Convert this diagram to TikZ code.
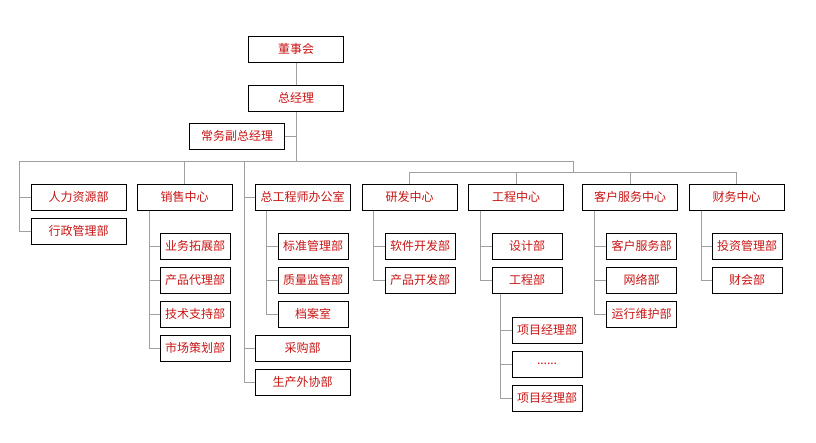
\documentclass[tikz,border=0pt]{standalone}
\usepackage{fontspec}
\setmainfont{Noto Sans CJK SC}
\usepackage{tikz}
\definecolor{deptred}{RGB}{200,20,20}
\definecolor{linkgray}{RGB}{160,160,160}

\begin{document}
\begin{tikzpicture}[x=1pt,y=-1pt,
        box/.style={draw=black,line width=1pt,text=deptred,minimum width=95pt,minimum height=26pt,inner sep=0pt,font=\fontsize{12}{14}\selectfont},
        sub/.style={box,minimum width=70pt},
        link/.style={draw=linkgray,line width=0.9pt}]
        \useasboundingbox (0,0) rectangle (816,442);
        % top
        \node [box] (board) at (296,49) {董事会};
        \node [box] (gm) at (296,98) {总经理};
        \node [box] (vp) at (237,136) {常务副总经理};
        % centres
        \node [box] (hr) at (78.5,197) {人力资源部};
        \node [box] (admin) at (78.5,231) {行政管理部};
        \node [box] (sales) at (184.5,197) {销售中心};
        \node [box] (chief) at (302.5,197) {总工程师办公室};
        \node [box] (purch) at (302.5,348) {采购部};
        \node [box] (outsrc) at (302.5,382) {生产外协部};
        \node [box] (rd) at (409.5,197) {研发中心};
        \node [box] (eng) at (516,197) {工程中心};
        \node [box] (cs) at (630,197) {客户服务中心};
        \node [box] (fin) at (736.5,197) {财务中心};
        % departments
        \node [sub] (s1) at (195,246) {业务拓展部};
        \node [sub] (s2) at (195,280) {产品代理部};
        \node [sub] (s3) at (195,314) {技术支持部};
        \node [sub] (s4) at (195,348) {市场策划部};
        \node [sub] (c1) at (313,246) {标准管理部};
        \node [sub] (c2) at (313,280) {质量监管部};
        \node [sub] (c3) at (313,314) {档案室};
        \node [sub] (r1) at (420,246) {软件开发部};
        \node [sub] (r2) at (420,280) {产品开发部};
        \node [sub] (e1) at (527,246) {设计部};
        \node [sub] (e2) at (527,280) {工程部};
        \node [sub] (p1) at (547,330) {项目经理部};
        \node [sub] (p2) at (547,364) {......};
        \node [sub] (p3) at (547,398) {项目经理部};
        \node [sub] (k1) at (641.5,246) {客户服务部};
        \node [sub] (k2) at (641.5,280) {网络部};
        \node [sub] (k3) at (641.5,314) {运行维护部};
        \node [sub] (f1) at (747,246) {投资管理部};
        \node [sub] (f2) at (747,280) {财会部};
        % buses
        \coordinate (busL) at (19,161);
        \coordinate (busR) at (573,161);
        \coordinate (busE) at (244,161);
        \coordinate (bus2L) at (409,172);
        \coordinate (bus2R) at (737,172);
        \draw [link] (board) -- (gm);
        \draw [link] (gm) -- (gm |- busL);
        \draw [link] (vp) -- (vp -| gm);
        \draw [link] (busL) -- (busR) -- (busR |- bus2L);
        \draw [link] (bus2L) -- (bus2R);
        \draw [link] (busL) |- (hr);
        \draw [link] (busL) |- (admin);
        \draw [link] (sales |- busL) -- (sales);
        \draw [link] (busE) |- (chief);
        \draw [link] (busE) |- (purch);
        \draw [link] (busE) |- (outsrc);
        \foreach \c in {rd,eng,cs,fin}
            \draw [link] (\c |- bus2L) -- (\c);
        \foreach \s in {s1,s2,s3,s4}
            \draw [link] ([xshift=13pt]sales.south west) |- (\s);
        \foreach \s in {c1,c2,c3}
            \draw [link] ([xshift=12pt]chief.south west) |- (\s);
        \foreach \s in {r1,r2}
            \draw [link] ([xshift=12pt]rd.south west) |- (\s);
        \foreach \s in {e1,e2}
            \draw [link] ([xshift=12pt]eng.south west) |- (\s);
        \foreach \s in {p1,p2,p3}
            \draw [link] ([xshift=9pt]e2.south west) |- (\s);
        \foreach \s in {k1,k2,k3}
            \draw [link] ([xshift=12pt]cs.south west) |- (\s);
        \foreach \s in {f1,f2}
            \draw [link] ([xshift=13pt]fin.south west) |- (\s);
    \end{tikzpicture}
\end{document}
